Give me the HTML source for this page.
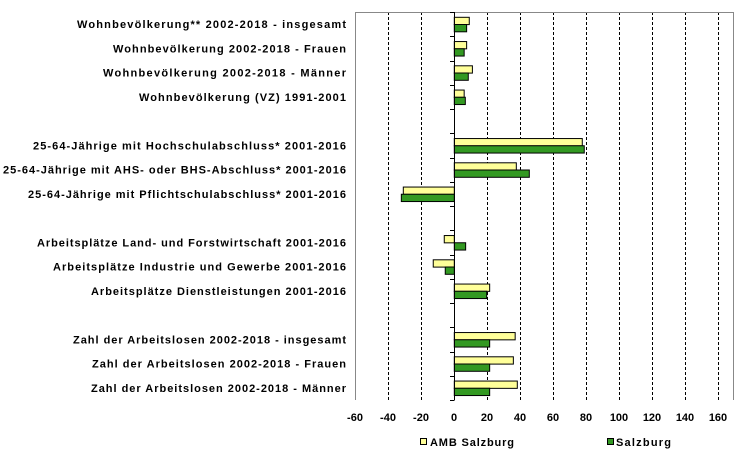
<!DOCTYPE html>
<html><head><meta charset="utf-8"><style>body{margin:0;background:#fff}svg{display:block}text{font-family:"Liberation Sans","DejaVu Sans",sans-serif;font-weight:bold;font-size:11px;fill:#000}</style></head>
<body>
<svg width="755" height="458" xmlns="http://www.w3.org/2000/svg">
<g stroke="#000" stroke-dasharray="3,2" stroke-width="1">
<line x1="388.5" y1="12" x2="388.5" y2="400"/><line x1="421.5" y1="12" x2="421.5" y2="400"/>
<line x1="487.5" y1="12" x2="487.5" y2="400"/><line x1="520.5" y1="12" x2="520.5" y2="400"/>
<line x1="553.5" y1="12" x2="553.5" y2="400"/><line x1="586.5" y1="12" x2="586.5" y2="400"/>
<line x1="619.5" y1="12" x2="619.5" y2="400"/><line x1="652.5" y1="12" x2="652.5" y2="400"/>
<line x1="685.5" y1="12" x2="685.5" y2="400"/><line x1="718.5" y1="12" x2="718.5" y2="400"/>
</g>
<polyline points="355.5,400 355.5,12.5 733.5,12.5 733.5,400" fill="none" stroke="#888" stroke-width="1"/>
<g id="bars" stroke="#000" stroke-width="1"></g>
<line x1="454.5" y1="12" x2="454.5" y2="400" stroke="#000"/>
<g id="ticks" stroke="#000"></g>
<g id="labels"></g>
<g text-anchor="middle">
<text x="355" y="421">-60</text><text x="388" y="421">-40</text><text x="421" y="421">-20</text>
<text x="454" y="421">0</text><text x="487" y="421">20</text><text x="520" y="421">40</text>
<text x="553" y="421">60</text><text x="586" y="421">80</text><text x="619" y="421">100</text>
<text x="652" y="421">120</text><text x="685" y="421">140</text><text x="718" y="421">160</text>
</g>
<rect x="420.5" y="438.5" width="6" height="6" fill="#ffff99" stroke="#000"/>
<text x="430" y="446" textLength="84" lengthAdjust="spacing">AMB Salzburg</text>
<rect x="607.5" y="438.5" width="6" height="6" fill="#339922" stroke="#000"/>
<text x="616" y="446" textLength="55" lengthAdjust="spacing">Salzburg</text>
</svg>
<script>
var data=[[0,9.1,7.5,"Wohnbevölkerung** 2002-2018 - insgesamt",77],[1,7.5,6,"Wohnbevölkerung 2002-2018 - Frauen",113],[2,11,8.5,"Wohnbevölkerung 2002-2018 - Männer",103],[3,6,6.7,"Wohnbevölkerung (VZ) 1991-2001",139],
[5,77.8,79,"25-64-Jährige mit Hochschulabschluss* 2001-2016",33],[6,37.7,45.6,"25-64-Jährige mit AHS- oder BHS-Abschluss* 2001-2016",3],[7,-31,-32.2,"25-64-Jährige mit Pflichtschulabschluss* 2001-2016",28],
[9,-6.1,6.9,"Arbeitsplätze Land- und Forstwirtschaft 2001-2016",37],[10,-12.8,-5.5,"Arbeitsplätze Industrie und Gewerbe 2001-2016",53],[11,21.5,19.7,"Arbeitsplätze Dienstleistungen 2001-2016",91],
[13,37,21.5,"Zahl der Arbeitslosen 2002-2018 - insgesamt",73],[14,35.9,21.5,"Zahl der Arbeitslosen 2002-2018 - Frauen",92],[15,38.3,21.5,"Zahl der Arbeitslosen 2002-2018 - Männer",91]];
var NS="http://www.w3.org/2000/svg",z=454.3,s=1.645,h=24.25;
function el(p,t,a,tx){var e=document.createElementNS(NS,t);for(var k in a)e.setAttribute(k,a[k]);if(tx)e.textContent=tx;document.getElementById(p).appendChild(e);}
for(var i=0;i<=16;i++){var y=Math.round(12+h*i)+0.5;el("ticks","line",{x1:450,x2:454.5,y1:y,y2:y});}
data.forEach(function(d){var top=12+h*d[0];
[[d[1],5.3,"#ffff99"],[d[2],12.5,"#339922"]].forEach(function(b){var x1=z,x2=z+b[0]*s;el("bars","rect",{x:Math.min(x1,x2),y:top+b[1],width:Math.abs(x2-x1),height:7.3,fill:b[2]});});
el("labels","text",{x:d[4],y:top+h/2+4,textLength:346-d[4],lengthAdjust:"spacing"},d[3]);});
</script>
</body></html>
